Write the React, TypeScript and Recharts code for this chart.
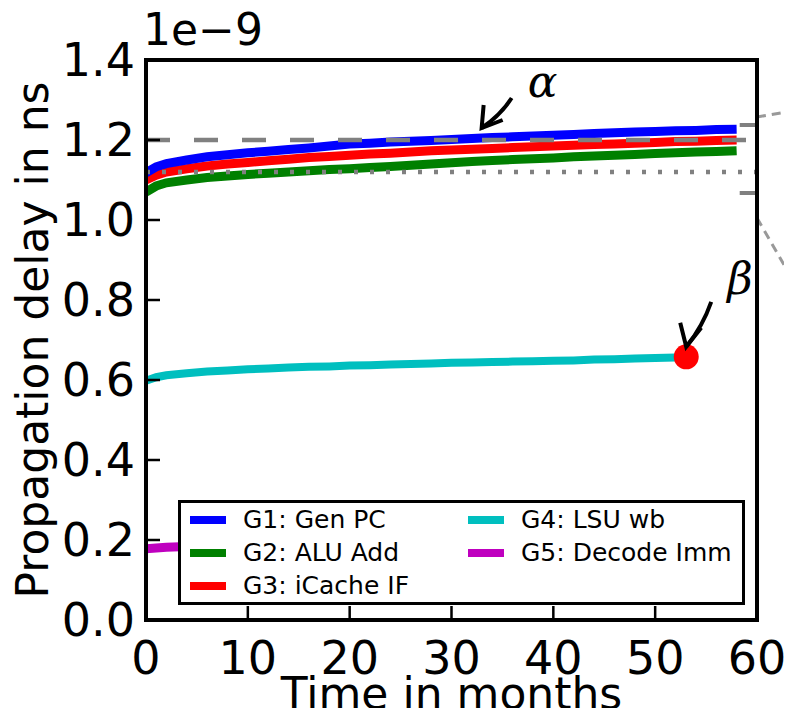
import { LineChart, Line, XAxis, YAxis, ReferenceLine, ReferenceDot, Legend, Label } from "recharts";

const months = [0, 1, 2, 4, 6, 8, 10, 12, 14, 16, 18, 20, 22, 24, 26, 28, 30, 32, 34, 36, 38, 40, 42, 44, 46, 48, 50, 52, 54, 56, 58];
const g1Delay = [1.118, 1.133, 1.141, 1.15, 1.158, 1.163, 1.168, 1.172, 1.176, 1.18, 1.185, 1.19, 1.192, 1.195, 1.197, 1.199, 1.201, 1.204, 1.206, 1.208, 1.21, 1.212, 1.214, 1.216, 1.218, 1.22, 1.221, 1.223, 1.224, 1.226, 1.227];
const g2Delay = [1.07, 1.085, 1.093, 1.1, 1.106, 1.11, 1.114, 1.117, 1.12, 1.123, 1.126, 1.128, 1.131, 1.134, 1.137, 1.14, 1.143, 1.146, 1.149, 1.151, 1.153, 1.155, 1.158, 1.16, 1.162, 1.164, 1.166, 1.168, 1.17, 1.171, 1.173];
const g3Delay = [1.1, 1.112, 1.12, 1.128, 1.135, 1.14, 1.144, 1.148, 1.152, 1.156, 1.159, 1.162, 1.165, 1.167, 1.17, 1.173, 1.175, 1.177, 1.179, 1.181, 1.183, 1.185, 1.187, 1.189, 1.19, 1.192, 1.194, 1.196, 1.197, 1.199, 1.2];
const g4Months = [0, 1, 2, 4, 6, 8, 10, 12, 14, 16, 18, 20, 22, 24, 26, 28, 30, 32, 34, 36, 38, 40, 42, 44, 46, 48, 50, 52, 53];
const g4Delay = [0.598, 0.607, 0.612, 0.617, 0.621, 0.624, 0.627, 0.629, 0.631, 0.633, 0.634, 0.636, 0.637, 0.639, 0.64, 0.641, 0.643, 0.644, 0.645, 0.646, 0.647, 0.648, 0.649, 0.651, 0.652, 0.654, 0.655, 0.656, 0.657];
const g5Delay = [0.178, 0.18, 0.182, 0.184, 0.185, 0.186, 0.187, 0.188, 0.188, 0.189, 0.189, 0.19, 0.19, 0.191, 0.191, 0.191, 0.192, 0.192, 0.192, 0.193, 0.193, 0.193, 0.194, 0.194, 0.194, 0.195, 0.195, 0.195, 0.196, 0.196, 0.196];

const seriesNames = ["G1: Gen PC", "G2: ALU Add", "G3: iCache IF", "G4: LSU wb", "G5: Decode Imm"];
const seriesColors = ["#0000ff", "#008000", "#ff0000", "#00bfbf", "#bf00bf"];

const xTicks = [0, 10, 20, 30, 40, 50, 60];
const yTicks = [0, 0.2, 0.4, 0.6, 0.8, 1.0, 1.2, 1.4];
const dashedGuide = 1.2;
const dottedGuide = 1.12;
const insetEdges = [1.2375, 1.0675];
const insetX = [58.3, 60];
const connectorUpper = [{ x: 60, y: 1.2575 }, { x: 63.4, y: 1.2725 }];
const connectorLower = [{ x: 60, y: 1.005 }, { x: 63.4, y: 0.855 }];
const alphaPoint = { month: 32.96, delay: 1.23 };
const betaPoint = { month: 53.05, delay: 0.658 };

const FONT = "DejaVu Sans";
const GRAY = "#808080";

const toRows = (xs: number[], ys: number[]) => xs.map((m, i) => ({ month: m, delay: ys[i] }));
const seriesData = [
  toRows(months, g1Delay),
  toRows(months, g2Delay),
  toRows(months, g3Delay),
  toRows(g4Months, g4Delay),
  toRows(months, g5Delay),
];
// draw order: magenta first so legend covers it, blue on top of the bundle
const drawOrder = [4, 3, 1, 2, 0];

function LegendBox() {
  const order = [0, 1, 2, 3, 4];
  return (
    <div
      style={{
        border: "3px solid #000",
        background: "#fff",
        display: "grid",
        gridTemplateRows: "repeat(3, 33px)",
        gridTemplateColumns: "278px 1fr",
        gridAutoFlow: "column",
        paddingLeft: 9,
        fontFamily: FONT,
        fontSize: 25,
        color: "#000",
        lineHeight: 1,
      }}
    >
      {order.map((i) => (
        <div key={i} style={{ display: "flex", alignItems: "center" }}>
          <span style={{ display: "inline-block", width: 36, height: 8, background: seriesColors[i], marginRight: 17 }} />
          <span>{seriesNames[i]}</span>
        </div>
      ))}
    </div>
  );
}

function Arrow({ cx, cy, tail, barbs, label, labelAt }: any) {
  const [tx, ty] = tail;
  const mx = cx + tx / 2 + 4;
  const my = cy + ty / 2 + 2;
  return (
    <g>
      <path d={`M${cx + tx},${cy + ty} Q${mx},${my} ${cx},${cy}`} fill="none" stroke="#000" strokeWidth={4} />
      <path
        d={`M${cx + barbs[0][0]},${cy + barbs[0][1]} L${cx},${cy} L${cx + barbs[1][0]},${cy + barbs[1][1]}`}
        fill="none"
        stroke="#000"
        strokeWidth={4}
      />
      <text x={cx + labelAt[0]} y={cy + labelAt[1]} fontFamily="DejaVu Serif" fontStyle="italic" fontSize={44} fill="#000">
        {label}
      </text>
    </g>
  );
}

export default function App() {
  const tickStyle = { fill: "#000", fontSize: 46, fontFamily: FONT };
  const frame = { stroke: "#000", strokeWidth: 4, strokeLinecap: "square" as const };
  const tickMark = { stroke: "#000", strokeWidth: 2.5 };
  return (
    <div style={{ margin: -8, width: 792, height: 716, background: "#fff", position: "relative" }}>
      <LineChart width={792} height={716} margin={{ top: 59, right: 34, bottom: 0, left: 0 }}>
        <XAxis
          dataKey="month"
          type="number"
          domain={[0, 60]}
          ticks={xTicks}
          interval={0}
          allowDataOverflow
          height={96}
          tickSize={-14}
          tickMargin={35}
          tick={tickStyle}
          tickLine={tickMark}
          axisLine={frame}
        >
          <Label
            content={(p: any) => {
              const vb = p.viewBox;
              return (
                <text x={vb.x + vb.width / 2} y={vb.y + 89} textAnchor="middle" fontSize={44} fontFamily={FONT} fill="#000">
                  Time in months
                </text>
              );
            }}
          />
        </XAxis>
        <XAxis
          xAxisId="top"
          orientation="top"
          type="number"
          domain={[0, 60]}
          ticks={xTicks}
          interval={0}
          allowDataOverflow
          height={1}
          tickSize={-14}
          tick={false}
          tickLine={tickMark}
          axisLine={frame}
        >
          <Label
            content={(p: any) => {
              const vb = p.viewBox;
              return (
                <text x={vb.x - 3} y={vb.y - 14} textAnchor="start" fontSize={44} fontFamily={FONT} fill="#000">
                  1e−9
                </text>
              );
            }}
          />
        </XAxis>
        <YAxis
          type="number"
          domain={[0, 1.4]}
          ticks={yTicks}
          interval={0}
          allowDataOverflow
          width={146}
          tickSize={-14}
          tickMargin={25}
          tick={tickStyle}
          tickFormatter={(v: number) => v.toFixed(1)}
          tickLine={tickMark}
          axisLine={frame}
        >
          <Label
            content={(p: any) => {
              const vb = p.viewBox;
              const x = vb.x + 48;
              const y = vb.y + vb.height / 2;
              return (
                <text x={x} y={y} transform={`rotate(-90 ${x} ${y})`} textAnchor="middle" fontSize={44} fontFamily={FONT} fill="#000">
                  Propagation delay in ns
                </text>
              );
            }}
          />
        </YAxis>
        <YAxis
          yAxisId="r"
          orientation="right"
          type="number"
          domain={[0, 1.4]}
          ticks={yTicks}
          interval={0}
          allowDataOverflow
          width={1}
          tickSize={-14}
          tick={false}
          tickLine={tickMark}
          axisLine={frame}
        />

        {drawOrder.map((i) => (
          <Line
            key={seriesNames[i]}
            data={seriesData[i]}
            dataKey="delay"
            name={seriesNames[i]}
            type="linear"
            stroke={seriesColors[i]}
            strokeWidth={i === 3 ? 8 : 9}
            dot={false}
            activeDot={false}
            isAnimationActive={false}
          />
        ))}

        <ReferenceLine y={dashedGuide} stroke={GRAY} strokeWidth={4.5} strokeDasharray="24 24" />
        <ReferenceLine y={dottedGuide} stroke={GRAY} strokeWidth={4.5} strokeDasharray="4 12" />
        {insetEdges.map((v) => (
          <ReferenceLine
            key={v}
            segment={[{ x: insetX[0], y: v }, { x: insetX[1], y: v }]}
            stroke={GRAY}
            strokeWidth={4}
          />
        ))}
        <ReferenceLine segment={connectorUpper} ifOverflow="visible" stroke="#999" strokeWidth={3} strokeDasharray="9 6" />
        <ReferenceLine segment={connectorLower} ifOverflow="visible" stroke="#999" strokeWidth={3} strokeDasharray="9 6" />

        <ReferenceDot x={betaPoint.month} y={betaPoint.delay} r={12.5} fill="#ff0000" stroke="none" />
        <ReferenceDot
          x={alphaPoint.month}
          y={alphaPoint.delay}
          r={0}
          shape={(p: any) => (
            <Arrow cx={p.cx} cy={p.cy} tail={[30, -30]} barbs={[[2, -23], [21, -8]]} label="α" labelAt={[46, -31]} />
          )}
        />
        <ReferenceDot
          x={betaPoint.month}
          y={betaPoint.delay}
          r={0}
          shape={(p: any) => (
            <Arrow cx={p.cx} cy={p.cy - 10} tail={[25, -45]} barbs={[[-6, -24], [15, -19]]} label="β" labelAt={[41, -53]} />
          )}
        />

        <Legend
          layout="horizontal"
          verticalAlign="middle"
          content={() => <LegendBox />}
          wrapperStyle={{ left: 178, top: 500, width: 567 }}
        />
      </LineChart>
    </div>
  );
}
